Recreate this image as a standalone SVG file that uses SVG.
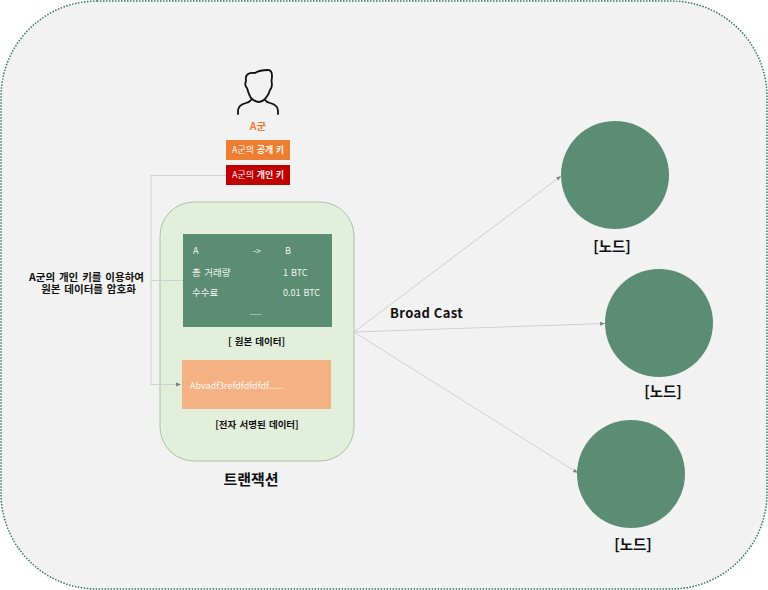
<svg xmlns="http://www.w3.org/2000/svg" width="768" height="590" viewBox="0 0 768 590">
<style>
text{font-family:"Noto Sans CJK KR","Noto Sans",sans-serif}
.b{font-weight:700;fill:#111}
.w{fill:#fff;font-size:9px;opacity:.92}
.c{fill:none;stroke:#cfcfcf;stroke-width:1}
.n{fill:#5b8d74}
</style>
<defs><marker id="a" markerUnits="userSpaceOnUse" markerWidth="6" markerHeight="6" refX="5" refY="3" orient="auto"><path d="M0 1L5 3L0 5z" fill="#808080"/></marker></defs>
<rect width="768" height="590" fill="#fff"/>
<rect id="frame" x="1" y="1" width="766" height="588" rx="96" ry="96" fill="#f2f2f2" stroke="#2f7a5c" stroke-width="1.5" stroke-dasharray="1.5 1.5"/>
<g id="user"><path d="M238 114v-3c0-5 4-7 8-8 2-.5 4-1.500 5-3 M278 114v-3c0-5-4-7-8-8-2-.5-4-1.500-5-3 M251 98c-2-3-3-6-4-10-2-1-2-5-1-7 0-2-1-4 1-6 2-3 5-2 8-2 3-2 8-3 13-3 3 0 4 3 4 6s-1 5 0 8c0 3-1 5-2 6-1 4-3 7-5 9-2 2-4 3-6 3s-5-1-8-4z" fill="none" stroke="#111" stroke-width="1.800" stroke-linecap="round" stroke-linejoin="round"/><text x="258" y="130" font-size="10.500" font-weight="700" fill="#ed7d31" text-anchor="middle">A군</text></g>
<g id="public-key"><rect x="226" y="140" width="64" height="20" fill="#ed7d31"/><text x="232" y="153" class="w" word-spacing=".6">A군의 <tspan font-weight="700">공개 키</tspan></text></g>
<g id="private-key"><rect x="226" y="165" width="64" height="20" fill="#c00000"/><text x="232" y="178" class="w" word-spacing=".6">A군의 <tspan font-weight="700">개인 키</tspan></text></g>
<g id="transaction"><rect x="160" y="202" width="194" height="259" rx="34" fill="#e2efda" stroke="#a9c4a4" stroke-width="1"/><text x="251" y="485" class="b" font-size="15" text-anchor="middle">트랜잭션</text></g>
<g id="connectors">
<path class="c" d="M226 175.500H151V384.500H181" marker-end="url(#a)"/>
<path class="c" d="M151 280.500H183"/>
<path class="c" d="M354 332L561 176" marker-end="url(#a)"/>
<path class="c" d="M354 332L605 323.500" marker-end="url(#a)"/>
<path class="c" d="M354 332L578 473" marker-end="url(#a)"/>
</g>
<g id="raw-data"><rect x="183" y="234" width="149" height="93" class="n"/>
<text x="193" y="254" class="w">A</text><text x="253" y="254" class="w">-&gt;</text><text x="285" y="254" class="w">B</text>
<text x="192" y="276" class="w" style="font-size:9.500px" word-spacing="1.500">총 거래량</text><text x="283" y="276" class="w" word-spacing="1">1 BTC</text>
<text x="192" y="296" class="w" style="font-size:9.500px">수수료</text><text x="283" y="296" class="w" word-spacing="1">0.01 BTC</text>
<text x="250" y="315" class="w" style="font-size:8px">.....</text>
<text x="256.500" y="345" class="b" font-size="9.500" text-anchor="middle" word-spacing="1">[ 원본 데이터]</text></g>
<g id="signed-data"><rect x="182" y="360" width="149" height="49" fill="#f4b183"/><text x="190" y="389" class="w">Abvadf3refdfdfdfdf......</text>
<text x="257" y="428" class="b" font-size="9.500" text-anchor="middle" word-spacing="1">[전자 서명된 데이터]</text></g>
<text class="b" font-size="10.500" text-anchor="middle" word-spacing="1.500"><tspan x="86.500" y="281">A군의 개인 키를 이용하여</tspan><tspan x="88.500" y="293">원본 데이터를 암호화</tspan></text>
<text x="390" y="318" class="b" font-size="13px" letter-spacing=".4">Broad Cast</text>
<g id="node-1"><circle cx="615" cy="175" r="54" class="n"/><text x="612" y="252" class="b" font-size="14.500" text-anchor="middle">[노드]</text></g>
<g id="node-2"><circle cx="659" cy="323" r="54" class="n"/><text x="663" y="397" class="b" font-size="14.500" text-anchor="middle">[노드]</text></g>
<g id="node-3"><circle cx="631" cy="474" r="54" class="n"/><text x="633" y="550" class="b" font-size="14.500" text-anchor="middle">[노드]</text></g>
</svg>
